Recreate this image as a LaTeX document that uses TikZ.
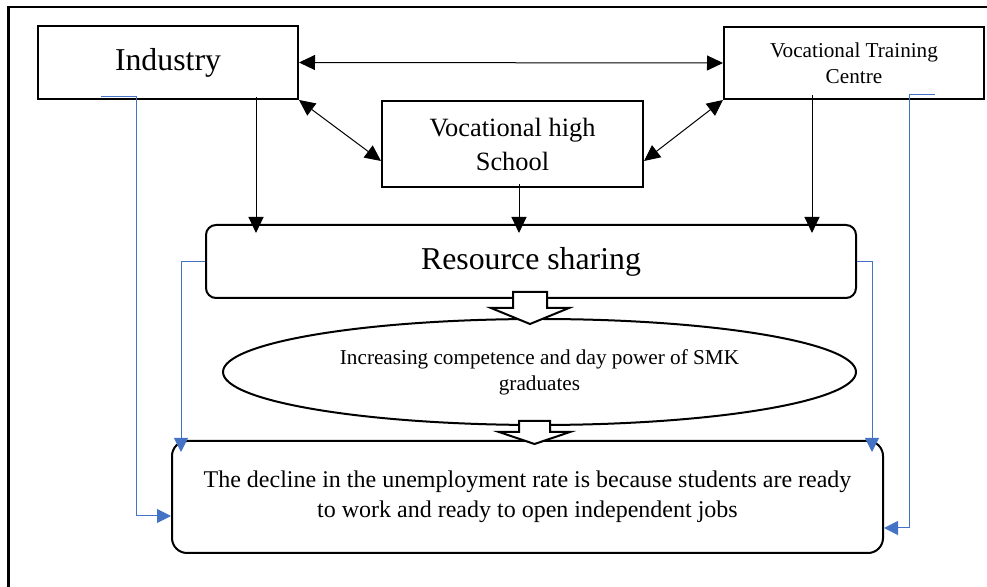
\documentclass[tikz,border=0pt]{standalone}
\usepackage{fontspec}
\setmainfont{Liberation Serif}
\usetikzlibrary{arrows.meta,shapes.geometric}
\definecolor{linkblue}{HTML}{4472C4}
\tikzset{
  box/.style={draw,line width=1pt,align=center,inner sep=2pt},
  rbox/.style={box,rounded corners=#1},
  arr/.style={line width=0.5pt,-{Triangle[length=8pt,width=7.5pt]}},
  dbl/.style={line width=0.5pt,{Triangle[length=8pt,width=7.5pt]}-{Triangle[length=8pt,width=7.5pt]}},
  blu/.style={color=linkblue,line width=0.5pt,-{Triangle[length=7pt,width=7pt]}},
  blk/.style={draw,fill=white,line width=1pt,line join=miter}
}

\begin{document}
\begin{tikzpicture}[x=0.5pt,y=-0.5pt]
  \useasboundingbox (0,0) rectangle (987,587);
  \draw[line width=1.3pt] (987,7) -| (8.5,587);

  \node[box,minimum width=130pt,minimum height=36.5pt,font=\fontsize{15.9}{19}\selectfont] (ind) at (168,62.5) {Industry};
  \node[box,minimum width=130pt,minimum height=36pt,font=\fontsize{10.6}{13}\selectfont] (vtc) at (854,63) {Vocational Training\\Centre};
  \node[box,minimum width=130.5pt,minimum height=43pt,font=\fontsize{13.2}{17}\selectfont] (vhs) at (512.5,144) {Vocational high\\School};
  \node[rbox=5pt,minimum width=325pt,minimum height=36.5pt,font=\fontsize{15.9}{19}\selectfont] (rs) at (531,261.5) {Resource sharing};
  \node[ellipse,draw,line width=1pt,inner sep=0pt,minimum width=316.5pt,minimum height=53pt,align=center,font=\fontsize{10.6}{13}\selectfont] (inc) at (539.5,372) {Increasing competence and day power of SMK\\graduates};
  \node[rbox=7.5pt,minimum width=355.5pt,minimum height=56pt,font=\fontsize{12}{15}\selectfont] (dec) at (527.5,497) {The decline in the unemployment rate is because students are ready\\to work and ready to open independent jobs};

  \draw[dbl] (ind.east) -- (vtc.west);
  \draw[dbl] (ind.south east) -- ([yshift=-8.5pt]vhs.west);
  \draw[dbl] (vtc.south west) -- ([yshift=-8.5pt]vhs.east);

  \coordinate (i1) at ([xshift=44pt,yshift=1.5pt]ind.south);
  \coordinate (s1) at ([xshift=3.25pt,yshift=2pt]vhs.south);
  \coordinate (v1) at ([xshift=-21pt,yshift=2.5pt]vtc.south);
  \foreach \c in {i1,s1,v1}
    \draw[arr,shorten >=-4.5pt] (\c) -- (\c |- rs.north);

  \draw[blu] ([xshift=-33.5pt,yshift=1.5pt]ind.south) -- ++(17.5pt,0) |- ([yshift=-9.5pt]dec.west);
  \draw[blu] ([xshift=40.5pt,yshift=2.5pt]vtc.south) -- ++(-13pt,0) |- ([yshift=-15.5pt]dec.east);
  \draw[blu] (rs.west) -| ([xshift=5pt,yshift=-6pt]dec.north west);
  \draw[blu] (rs.east) -| ([xshift=-6pt,yshift=-6pt]dec.north east);

  \foreach \cx/\ty/\sw/\hb/\hw/\tp in {530/292/17/308/39/324, 534.5/421/15.5/432/35.5/444}
    \draw[blk] (\cx-\sw,\ty) -- (\cx+\sw,\ty) -- (\cx+\sw,\hb) -- (\cx+\hw,\hb) -- (\cx,\tp)
      -- (\cx-\hw,\hb) -- (\cx-\sw,\hb) -- cycle;
\end{tikzpicture}
\end{document}
